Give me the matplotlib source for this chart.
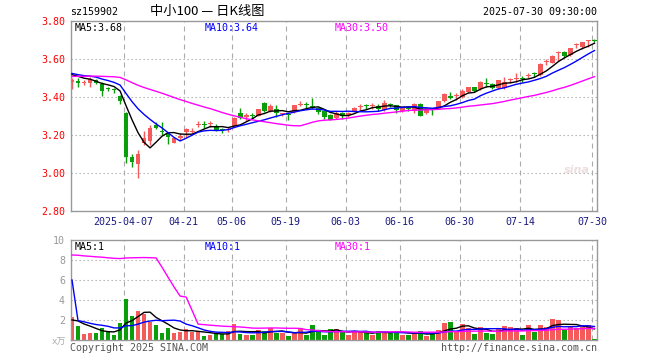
import matplotlib
matplotlib.use("Agg")
import matplotlib.pyplot as plt
import numpy as np

# ---------------- data ----------------
opens = [3.480, 3.485, 3.475, 3.475, 3.490, 3.470, 3.445, 3.440, 3.405, 3.317,
         3.086, 3.049, 3.156, 3.168, 3.253, 3.222, 3.209, 3.160, 3.186, 3.214,
         3.216, 3.254, 3.255, 3.256, 3.249, 3.228, 3.228, 3.249, 3.316, 3.293,
         3.306, 3.302, 3.370, 3.328, 3.335, 3.308, 3.307, 3.323, 3.359, 3.360,
         3.348, 3.340, 3.326, 3.305, 3.291, 3.318, 3.304, 3.323, 3.347, 3.355,
         3.354, 3.354, 3.332, 3.361, 3.356, 3.325, 3.341, 3.328, 3.363, 3.314,
         3.336, 3.339, 3.379, 3.405, 3.405, 3.402, 3.425, 3.451, 3.440, 3.474,
         3.468, 3.446, 3.446, 3.487, 3.496, 3.500, 3.508, 3.523, 3.516, 3.584,
         3.581, 3.631, 3.635, 3.621, 3.672, 3.665, 3.694, 3.697]
highs = [3.500, 3.500, 3.490, 3.505, 3.495, 3.480, 3.455, 3.445, 3.410, 3.322,
         3.098, 3.121, 3.221, 3.253, 3.268, 3.267, 3.218, 3.191, 3.209, 3.235,
         3.235, 3.275, 3.275, 3.272, 3.256, 3.239, 3.244, 3.297, 3.340, 3.314,
         3.314, 3.335, 3.375, 3.363, 3.356, 3.316, 3.318, 3.358, 3.379, 3.372,
         3.397, 3.346, 3.330, 3.309, 3.326, 3.323, 3.323, 3.347, 3.361, 3.363,
         3.370, 3.361, 3.384, 3.370, 3.360, 3.349, 3.353, 3.367, 3.367, 3.342,
         3.342, 3.379, 3.419, 3.428, 3.419, 3.440, 3.454, 3.454, 3.484, 3.498,
         3.475, 3.489, 3.503, 3.498, 3.525, 3.511, 3.525, 3.533, 3.577, 3.598,
         3.621, 3.644, 3.644, 3.660, 3.682, 3.689, 3.700, 3.703]
lows = [3.442, 3.455, 3.465, 3.455, 3.470, 3.405, 3.430, 3.420, 3.365, 3.054,
        3.033, 2.975, 3.147, 3.147, 3.230, 3.200, 3.153, 3.156, 3.174, 3.191,
        3.209, 3.240, 3.235, 3.244, 3.223, 3.209, 3.218, 3.244, 3.282, 3.275,
        3.288, 3.300, 3.323, 3.319, 3.297, 3.302, 3.279, 3.318, 3.353, 3.344,
        3.337, 3.312, 3.283, 3.277, 3.283, 3.286, 3.297, 3.319, 3.326, 3.335,
        3.339, 3.328, 3.328, 3.346, 3.314, 3.321, 3.326, 3.314, 3.300, 3.311,
        3.304, 3.335, 3.374, 3.389, 3.384, 3.397, 3.419, 3.428, 3.437, 3.451,
        3.440, 3.440, 3.440, 3.472, 3.481, 3.481, 3.498, 3.507, 3.511, 3.568,
        3.577, 3.589, 3.607, 3.616, 3.656, 3.651, 3.665, 3.691]
closes = [3.490, 3.475, 3.480, 3.495, 3.475, 3.430, 3.440, 3.435, 3.380, 3.086,
          3.058, 3.100, 3.182, 3.235, 3.235, 3.218, 3.191, 3.184, 3.197, 3.230,
          3.220, 3.258, 3.251, 3.260, 3.228, 3.224, 3.232, 3.291, 3.291, 3.307,
          3.302, 3.335, 3.328, 3.354, 3.314, 3.311, 3.304, 3.358, 3.362, 3.357,
          3.345, 3.319, 3.293, 3.281, 3.318, 3.302, 3.318, 3.342, 3.350, 3.352,
          3.357, 3.335, 3.368, 3.358, 3.333, 3.340, 3.339, 3.363, 3.302, 3.335,
          3.334, 3.379, 3.416, 3.397, 3.408, 3.432, 3.451, 3.433, 3.481, 3.470,
          3.446, 3.489, 3.477, 3.491, 3.500, 3.497, 3.510, 3.520, 3.574, 3.588,
          3.616, 3.635, 3.617, 3.660, 3.676, 3.689, 3.697, 3.694]
volumes = [2.33, 1.40, 0.60, 0.73, 0.73, 1.20, 0.90, 0.50, 1.73, 4.13,
           2.43, 2.93, 2.60, 1.83, 1.50, 0.73, 1.23, 0.73, 0.83, 1.10,
           0.77, 0.90, 0.40, 0.50, 0.67, 0.57, 0.90, 1.60, 0.63, 0.50,
           0.50, 1.00, 0.90, 1.17, 0.73, 0.70, 0.40, 0.67, 1.17, 0.50,
           1.50, 0.90, 0.50, 1.10, 1.10, 0.77, 0.50, 0.83, 0.90, 0.67,
           0.50, 0.90, 0.83, 0.77, 0.90, 0.50, 0.50, 0.67, 0.90, 0.40,
           0.57, 1.00, 1.70, 1.80, 0.83, 1.60, 1.17, 0.60, 1.30, 0.70,
           0.60, 1.07, 1.40, 1.30, 1.17, 0.50, 1.50, 0.83, 1.50, 1.30,
           2.10, 2.00, 1.00, 1.40, 1.23, 1.33, 1.50, 0.10]
# sessions before the visible window (needed for the moving averages)
prior_closes = [3.46, 3.47, 3.48, 3.47, 3.46, 3.48, 3.47, 3.48, 3.47, 3.50,
                3.52, 3.53, 3.54, 3.53, 3.52, 3.53, 3.52, 3.53, 3.52, 3.53,
                3.54, 3.53, 3.52, 3.53, 3.53, 3.52, 3.53, 3.52, 3.53]
prior_volumes = [2.1, 2.6, 1.9, 2.4, 2.2, 2.8, 2.0, 2.5, 2.3, 1.9,
                 2.6, 2.2, 2.4, 2.1, 29.0, 31.0, 30.0, 28.0, 4.0, 41.0,
                 42.0, 1.8, 2.2, 2.0, 1.97, 1.9, 2.1, 1.8, 1.9]
tick_index = [9, 19, 27, 36, 46, 55, 65, 75, 87]
tick_labels = ["2025-04-07", "04-21", "05-06", "05-19", "06-03", "06-16",
               "06-30", "07-14", "07-30"]
price_ticks = [2.80, 3.00, 3.20, 3.40, 3.60, 3.80]
vol_ticks = [2, 4, 6, 8, 10]

# ---------------- helpers ----------------
RED = "#f55a5a"
GREEN = "#0a9e0a"
GRID = "#aaaaaa"
FRAME = "#999999"
MONO = ["DejaVu Sans Mono", "Noto Sans CJK SC"]
FS = 7.2


def ma(series, prior, n):
    full = np.array(list(prior) + list(series), dtype=float)
    out = np.convolve(full, np.ones(n) / n, mode="valid")
    return out[-len(series):]


def trunc2(v):
    return "%.2f" % (np.floor(v * 100 + 1e-9) / 100)


n = len(closes)
x = np.arange(n)
o = np.array(opens); h = np.array(highs); l = np.array(lows); c = np.array(closes)
up = c >= o
cols = [RED if u else GREEN for u in up]

fig = plt.figure(figsize=(6.6, 3.6), dpi=100)
W, H = 660, 360
L_PX, R_PX = 70.5, 597
ax = fig.add_axes([L_PX / W, 1 - 211 / H, (R_PX - L_PX) / W, 190 / H])
axv = fig.add_axes([L_PX / W, 1 - 340 / H, (R_PX - L_PX) / W, 100 / H])

xmin, xmax = -0.25, n - 1 + 0.42
grid_x = [i - 0.42 for i in tick_index]

for a in (ax, axv):
    a.set_xlim(xmin, xmax)
    for s in a.spines.values():
        s.set_color(FRAME)
        s.set_linewidth(1)
    for gx in grid_x:
        a.axvline(gx, color=GRID, lw=0.8, ls=(0, (4.5, 3.6)), zorder=0)

# price panel
ax.set_ylim(2.80, 3.80)
for yv in price_ticks[1:-1]:
    ax.axhline(yv, color=GRID, lw=0.8, ls=(0, (1.2, 2.4)), zorder=0)
ax.vlines(x, l, h, colors=cols, lw=1, zorder=2)
body_bottom = np.minimum(o, c)
body_h = np.maximum(np.abs(c - o), 0.0055)
ax.bar(x, body_h, bottom=body_bottom, width=0.8, color=cols, lw=0, zorder=3)
ma5_line = ma(closes, prior_closes, 5)
ma10_line = ma(closes, prior_closes, 10)
ma30_line = ma(closes, prior_closes, 30)
ax.plot(x, ma5_line, color="black", lw=1, zorder=4)
ax.plot(x, ma10_line, color="#0000ff", lw=1, zorder=4)
ax.plot(x, ma30_line, color="#ff00ff", lw=1, zorder=4)
ax.set_yticks(price_ticks)
ax.set_yticklabels(["%.2f" % v for v in price_ticks], color="#ff0000",
                   fontsize=FS, family=MONO)
ax.set_xticks(grid_x)
ax.set_xticklabels(tick_labels, color="#1a1a80", fontsize=FS, family=MONO)
ax.tick_params(length=0, pad=4)

# volume panel
axv.set_ylim(0, 10)
for yv in vol_ticks[:-1]:
    axv.axhline(yv, color=GRID, lw=0.8, ls=(0, (1.2, 2.4)), zorder=0)
axv.bar(x, volumes, width=0.78, color=cols, lw=0, zorder=2)
axv.plot(x, ma(volumes, prior_volumes, 5), color="black", lw=1, zorder=4)
axv.plot(x, ma(volumes, prior_volumes, 10), color="#0000ff", lw=1, zorder=4)
axv.plot(x, ma(volumes, prior_volumes, 30), color="#ff00ff", lw=1, zorder=4)
axv.set_yticks(vol_ticks)
axv.set_yticklabels([str(v) for v in vol_ticks], color="#999999",
                    fontsize=FS, family=MONO)
axv.set_xticks([])
axv.tick_params(length=0, pad=4)


def ftxt(px, py, s, **kw):
    fig.text(px / W, 1 - py / H, s, **kw)


ftxt(70, 12, "sz159902", fontsize=FS, family=MONO, va="center", ha="left")
ftxt(150, 12, "中小100 — 日K线图", fontsize=9.5,
     family=["Noto Sans CJK SC", "DejaVu Sans"], va="center", ha="left")
ftxt(597, 12, "2025-07-30 09:30:00", fontsize=FS, family=MONO, va="center", ha="right")

ftxt(75, 28, "MA5:" + trunc2(ma5_line[-1]), fontsize=FS, family=MONO, va="center",
     color="black")
ftxt(205, 28, "MA10:" + trunc2(ma10_line[-1]), fontsize=FS, family=MONO, va="center",
     color="#0000ff")
ftxt(335, 28, "MA30:" + trunc2(ma30_line[-1]), fontsize=FS, family=MONO, va="center",
     color="#ff00ff")

ftxt(75, 247, "MA5:1", fontsize=FS, family=MONO, va="center", color="black")
ftxt(205, 247, "MA10:1", fontsize=FS, family=MONO, va="center", color="#0000ff")
ftxt(335, 247, "MA30:1", fontsize=FS, family=MONO, va="center", color="#ff00ff")

ftxt(66, 342, "x万", fontsize=6.5, family=MONO, va="center", ha="right", color="#aaaaaa")
ftxt(70, 348, "Copyright 2025 SINA.COM", fontsize=FS, family=MONO, va="center",
     ha="left", color="#555555")
ftxt(597, 348, "http://finance.sina.com.cn", fontsize=FS, family=MONO, va="center",
     ha="right", color="#555555")
ftxt(577, 170, "sina", fontsize=8, style="italic", weight="bold", va="center",
     ha="center", color="#ecdede")

fig.savefig("out.png", dpi=100)
